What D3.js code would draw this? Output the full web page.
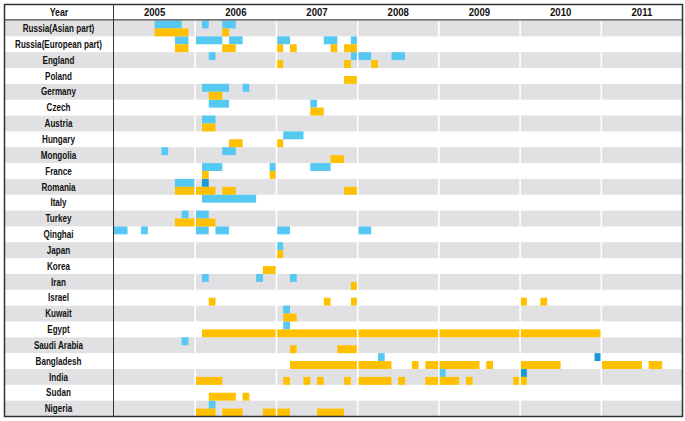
<!DOCTYPE html>
<html>
<head>
<meta charset="utf-8">
<script src="https://cdn.jsdelivr.net/npm/d3@7/dist/d3.min.js"></script>
<style>
html,body{margin:0;padding:0;background:#fff;}
svg{display:block;}
text{font-family:"Liberation Sans",Arial,sans-serif;font-weight:bold;fill:#111;}
</style>
</head>
<body>
<svg id="chart" width="685" height="421"></svg>
<script>
const countries = ["Russia(Asian part)","Russia(European part)","England","Poland","Germany","Czech","Austria","Hungary","Mongolia","France","Romania","Italy","Turkey","Qinghai","Japan","Korea","Iran","Israel","Kuwait","Egypt","Saudi Arabia","Bangladesh","India","Sudan","Nigeria"];
const years = ["2005","2006","2007","2008","2009","2010","2011"];

// [country, first month, last month] (inclusive)
const wildBirds = [
  ["Russia(Asian part)","2005-07","2005-10"],["Russia(Asian part)","2006-02","2006-02"],["Russia(Asian part)","2006-05","2006-06"],
  ["Russia(European part)","2005-10","2005-11"],["Russia(European part)","2006-01","2006-04"],["Russia(European part)","2006-06","2006-07"],
  ["Russia(European part)","2007-01","2007-02"],["Russia(European part)","2007-08","2007-09"],["Russia(European part)","2007-12","2007-12"],
  ["England","2006-03","2006-03"],["England","2007-12","2008-02"],["England","2008-06","2008-07"],
  ["Germany","2006-02","2006-05"],["Germany","2006-08","2006-08"],
  ["Czech","2006-03","2006-05"],["Czech","2007-06","2007-06"],
  ["Austria","2006-02","2006-03"],
  ["Hungary","2007-02","2007-04"],
  ["Mongolia","2005-08","2005-08"],["Mongolia","2006-05","2006-06"],
  ["France","2006-02","2006-04"],["France","2006-12","2006-12"],["France","2007-06","2007-08"],
  ["Romania","2005-10","2005-12"],
  ["Italy","2006-02","2006-09"],
  ["Turkey","2005-11","2005-11"],["Turkey","2006-01","2006-02"],
  ["Qinghai","2005-01","2005-02"],["Qinghai","2005-05","2005-05"],["Qinghai","2006-01","2006-02"],["Qinghai","2006-04","2006-05"],
  ["Qinghai","2007-01","2007-02"],["Qinghai","2008-01","2008-02"],
  ["Japan","2007-01","2007-01"],
  ["Iran","2006-02","2006-02"],["Iran","2006-10","2006-10"],["Iran","2007-03","2007-03"],
  ["Kuwait","2007-02","2007-02"],
  ["Egypt","2007-02","2007-02"],
  ["Saudi Arabia","2005-11","2005-11"],
  ["Bangladesh","2008-04","2008-04"],
  ["India","2009-01","2009-01"],
  ["Nigeria","2006-03","2006-03"]
];

const wildBirdsDark = [
  ["Romania","2006-02","2006-02"],["Bangladesh","2010-12","2010-12"],["India","2010-01","2010-01"]
];

const poultry = [
  ["Russia(Asian part)","2005-07","2005-11"],["Russia(Asian part)","2006-05","2006-05"],
  ["Russia(European part)","2005-10","2005-11"],["Russia(European part)","2006-05","2006-06"],["Russia(European part)","2007-01","2007-01"],
  ["Russia(European part)","2007-03","2007-03"],["Russia(European part)","2007-09","2007-09"],["Russia(European part)","2007-11","2007-12"],
  ["England","2007-01","2007-01"],["England","2007-11","2007-11"],["England","2008-03","2008-03"],
  ["Poland","2007-11","2007-12"],
  ["Germany","2006-03","2006-04"],
  ["Czech","2007-06","2007-07"],
  ["Austria","2006-02","2006-03"],
  ["Hungary","2006-06","2006-07"],["Hungary","2007-01","2007-01"],
  ["Mongolia","2007-09","2007-10"],
  ["France","2006-02","2006-02"],["France","2006-12","2006-12"],
  ["Romania","2005-10","2006-03"],["Romania","2006-05","2006-06"],["Romania","2007-11","2007-12"],
  ["Turkey","2005-10","2006-03"],
  ["Japan","2007-01","2007-01"],
  ["Korea","2006-11","2006-12"],
  ["Iran","2007-12","2007-12"],
  ["Israel","2006-03","2006-03"],["Israel","2007-08","2007-08"],["Israel","2007-12","2007-12"],["Israel","2010-01","2010-01"],["Israel","2010-04","2010-04"],
  ["Kuwait","2007-02","2007-03"],
  ["Egypt","2006-02","2010-12"],
  ["Saudi Arabia","2007-03","2007-03"],["Saudi Arabia","2007-10","2007-12"],
  ["Bangladesh","2007-03","2008-05"],["Bangladesh","2008-09","2008-09"],["Bangladesh","2008-11","2009-06"],["Bangladesh","2009-08","2009-08"],
  ["Bangladesh","2010-01","2010-06"],["Bangladesh","2011-01","2011-06"],["Bangladesh","2011-08","2011-09"],
  ["India","2006-01","2006-04"],["India","2007-02","2007-02"],["India","2007-05","2007-05"],["India","2007-07","2007-07"],["India","2007-11","2007-11"],
  ["India","2008-01","2008-05"],["India","2008-07","2008-07"],["India","2008-11","2009-03"],["India","2009-05","2009-05"],["India","2009-12","2010-01"],
  ["Sudan","2006-03","2006-06"],["Sudan","2006-08","2006-08"],
  ["Nigeria","2006-01","2006-03"],["Nigeria","2006-05","2006-07"],["Nigeria","2006-11","2007-02"],["Nigeria","2007-07","2007-10"]
];

const headerLabel = "Year";

// ---------- layout ----------
const svg = d3.select("#chart");
const L = 4.5, R = 682.5, T = 4.5, B = 416.5;
const labelRight = 113.5, dataLeft = 114;
const headerBottom = 20.5;

const monthIndex = s => { const [y, m] = s.split("-").map(Number); return (y - +years[0]) * 12 + (m - 1); };
const x = d3.scaleLinear().domain([0, years.length * 12]).range([dataLeft, R]);
const y = d3.scaleBand().domain(countries).range([headerBottom, B]).padding(0);

const colors = { blue: "#56C9F3", orange: "#FFC000", dark: "#1B98D6", gray: "#E1E1E3" };

// row backgrounds
svg.append("g").selectAll("rect").data(countries.filter((c, i) => i % 2 === 0)).join("rect")
  .attr("x", L).attr("width", R - L)
  .attr("y", d => y(d)).attr("height", y.bandwidth())
  .attr("fill", colors.gray);

// bars
function drawBars(data, color, half) {
  svg.append("g").selectAll("rect").data(data).join("rect")
    .attr("x", d => x(monthIndex(d[1])))
    .attr("width", d => x(monthIndex(d[2]) + 1) - x(monthIndex(d[1])))
    .attr("y", d => y(d[0]) + (half === "top" ? 0 : y.bandwidth() / 2))
    .attr("height", y.bandwidth() / 2)
    .attr("fill", color);
}
drawBars(wildBirds, colors.blue, "top");
drawBars(wildBirdsDark, colors.dark, "top");
drawBars(poultry, colors.orange, "bottom");

// white year separators
svg.append("g").selectAll("line").data(d3.range(1, years.length)).join("line")
  .attr("x1", d => x(d * 12)).attr("x2", d => x(d * 12))
  .attr("y1", headerBottom + 0.5).attr("y2", B)
  .attr("stroke", "#fff").attr("stroke-width", 1.6);

// header background
svg.append("rect").attr("x", L).attr("y", T).attr("width", R - L).attr("height", headerBottom - T - 0.5).attr("fill", "#fff");

function squeeze(sel, f) {
  sel.each(function () {
    const len = this.getComputedTextLength();
    d3.select(this).attr("textLength", len * f).attr("lengthAdjust", "spacingAndGlyphs");
  });
}

// header texts
svg.append("text").attr("x", (L + labelRight) / 2).attr("y", 16).attr("text-anchor", "middle")
  .style("font-size", "10px").text(headerLabel).call(squeeze, 0.88);
svg.append("g").selectAll("text").data(years).join("text")
  .attr("x", (d, i) => x(i * 12 + 6)).attr("y", 16).attr("text-anchor", "middle")
  .style("font-size", "10px").text(d => d).call(squeeze, 0.96);

// row labels
svg.append("g").selectAll("text").data(countries).join("text")
  .attr("x", 58.5).attr("y", d => y(d) + y.bandwidth() / 2 + 3.7).attr("text-anchor", "middle")
  .style("font-size", "10px").text(d => d).call(squeeze, 0.81);

// lines & frame
svg.append("line").attr("x1", L).attr("x2", R).attr("y1", headerBottom - 0.7).attr("y2", headerBottom - 0.7)
  .attr("stroke", "#444").attr("stroke-width", 1.2);
svg.append("line").attr("x1", labelRight).attr("x2", labelRight).attr("y1", T).attr("y2", B)
  .attr("stroke", "#333").attr("stroke-width", 1);
svg.append("rect").attr("x", L).attr("y", T).attr("width", R - L).attr("height", B - T)
  .attr("fill", "none").attr("stroke", "#333").attr("stroke-width", 1.5);
</script>
</body>
</html>
